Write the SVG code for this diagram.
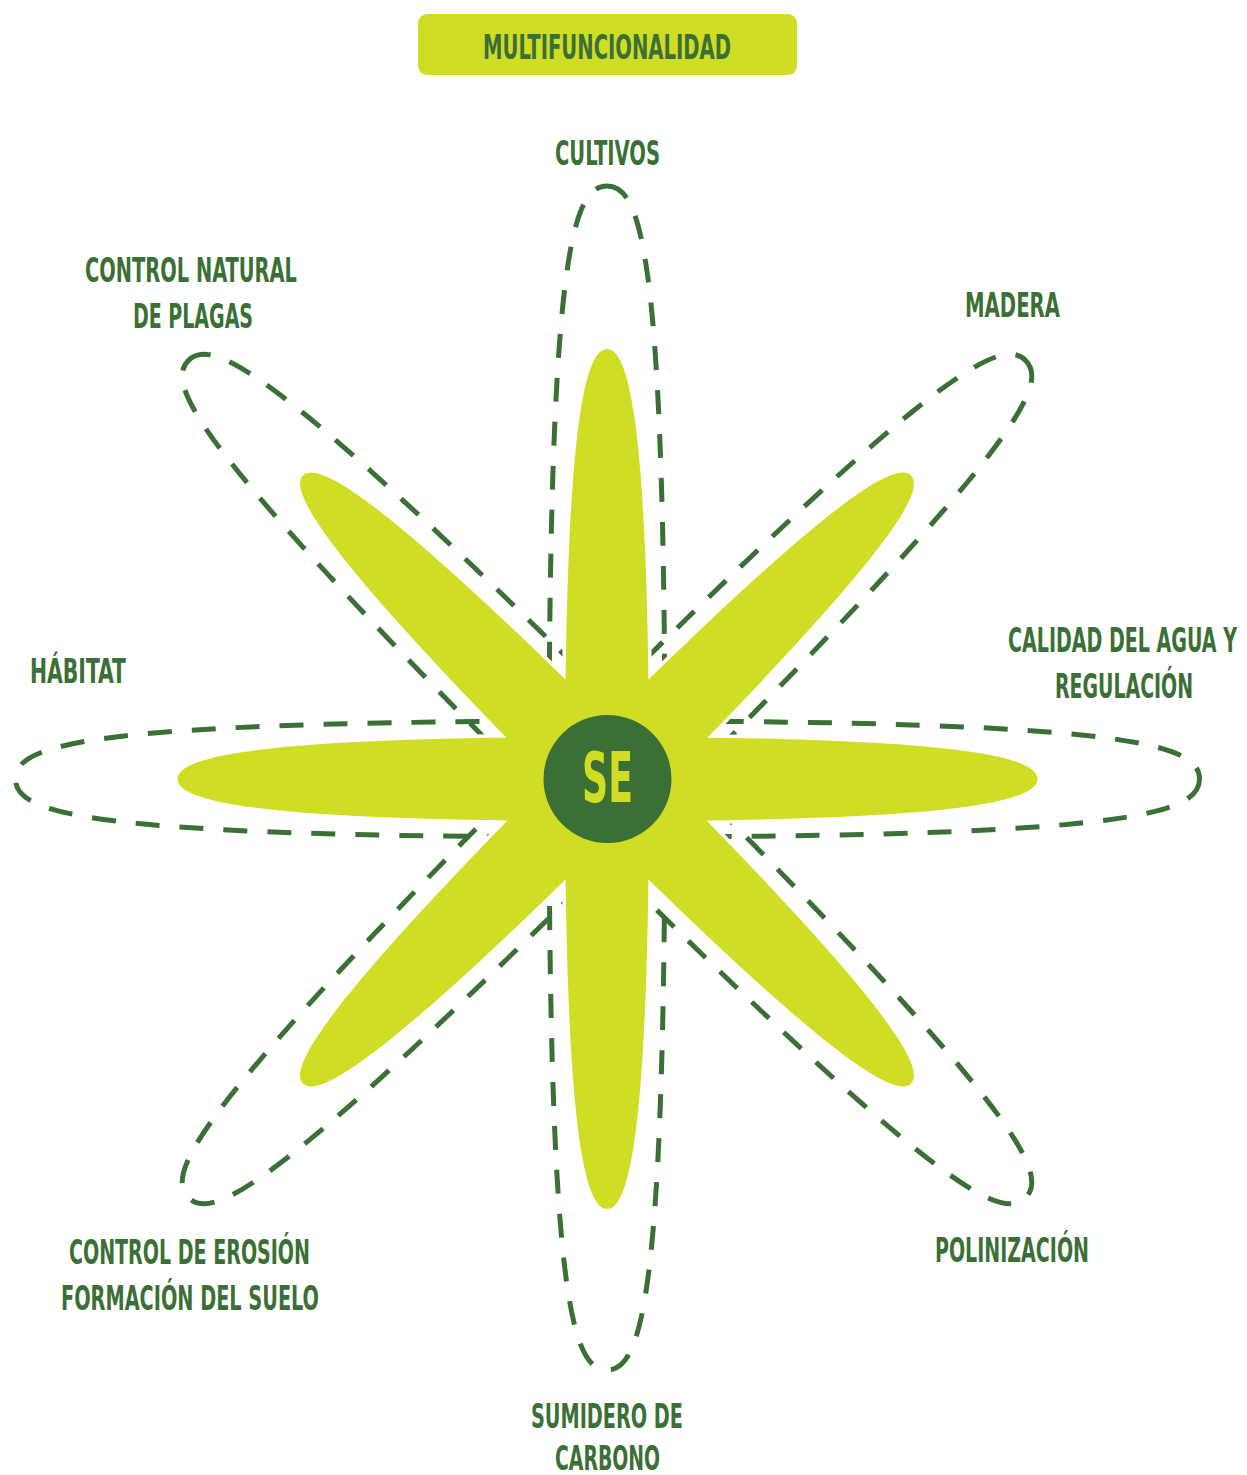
<svg xmlns="http://www.w3.org/2000/svg" width="1247" height="1475" viewBox="0 0 1247 1475">
<style>
.lbl{font-family:"Liberation Sans Narrow","DejaVu Sans Condensed","Liberation Sans",sans-serif;font-weight:bold;font-size:34px;fill:#3a7035;text-anchor:middle}
.dash{fill:none;stroke:#3a7035;stroke-width:5;stroke-dasharray:24 20}
.petal{fill:#cfdd25}
.halo{fill:#ffffff;stroke:#ffffff;stroke-width:7}
</style>
<defs>
<path id="ring" d="M0,-592 C34.8,-592 58,-521 58,0 C58,521 34.8,592 0,592 C-34.8,592 -58,521 -58,0 C-58,-521 -34.8,-592 0,-592Z"/>
<path id="leaf" d="M0,-430 C25.2,-430 42,-326.8 42,0 C42,326.8 25.2,430 0,430 C-25.2,430 -42,326.8 -42,0 C-42,-326.8 -25.2,-430 0,-430Z"/>
</defs>
<rect width="1247" height="1475" fill="#ffffff"/>
<g id="title">
<rect x="418" y="14" width="379" height="61" rx="9" fill="#cfdd25"/>
<text class="lbl" x="607" y="59" textLength="248" lengthAdjust="spacingAndGlyphs">MULTIFUNCIONALIDAD</text>
</g>
<g id="dashed-rings">
<use href="#ring" class="dash" transform="translate(607,778)"/>
<use href="#ring" class="dash" transform="translate(607.5,779) rotate(90)"/>
<use href="#ring" class="dash" transform="translate(607,779) rotate(45)"/>
<use href="#ring" class="dash" transform="translate(607,779) rotate(-45)"/>
</g>
<g id="petal-halos">
<use href="#leaf" class="halo" transform="translate(607,779)"/>
<use href="#leaf" class="halo" transform="translate(607.5,779) rotate(90)"/>
<use href="#leaf" class="halo" transform="translate(607,779.5) rotate(45)"/>
<use href="#leaf" class="halo" transform="translate(607,779.5) rotate(-45)"/>
</g>
<g id="petals">
<use href="#leaf" class="petal" transform="translate(607,779)"/>
<use href="#leaf" class="petal" transform="translate(607.5,779) rotate(90)"/>
<use href="#leaf" class="petal" transform="translate(607,779.5) rotate(45)"/>
<use href="#leaf" class="petal" transform="translate(607,779.5) rotate(-45)"/>
</g>
<g id="center">
<circle cx="607.5" cy="779" r="64" fill="#3a7035"/>
<text class="lbl" x="607.5" y="802" style="font-size:69px;fill:#cfdd25" textLength="51" lengthAdjust="spacingAndGlyphs">SE</text>
</g>
<g id="label-cultivos"><text class="lbl" x="607.5" y="165" textLength="105" lengthAdjust="spacingAndGlyphs">CULTIVOS</text></g>
<g id="label-madera"><text class="lbl" x="1012.5" y="317" textLength="95" lengthAdjust="spacingAndGlyphs">MADERA</text></g>
<g id="label-agua">
<text class="lbl" x="1122.5" y="652" textLength="229" lengthAdjust="spacingAndGlyphs">CALIDAD DEL AGUA Y</text>
<text class="lbl" x="1124" y="698" textLength="138" lengthAdjust="spacingAndGlyphs">REGULACIÓN</text>
</g>
<g id="label-polinizacion"><text class="lbl" x="1012" y="1262" textLength="154" lengthAdjust="spacingAndGlyphs">POLINIZACIÓN</text></g>
<g id="label-carbono">
<text class="lbl" x="607" y="1428" textLength="152" lengthAdjust="spacingAndGlyphs">SUMIDERO DE</text>
<text class="lbl" x="607.5" y="1470" textLength="105" lengthAdjust="spacingAndGlyphs">CARBONO</text>
</g>
<g id="label-erosion">
<text class="lbl" x="189.5" y="1264" textLength="241" lengthAdjust="spacingAndGlyphs">CONTROL DE EROSIÓN</text>
<text class="lbl" x="190" y="1310" textLength="258" lengthAdjust="spacingAndGlyphs">FORMACIÓN DEL SUELO</text>
</g>
<g id="label-habitat"><text class="lbl" x="78" y="683" textLength="96" lengthAdjust="spacingAndGlyphs">HÁBITAT</text></g>
<g id="label-plagas">
<text class="lbl" x="191" y="282" textLength="212" lengthAdjust="spacingAndGlyphs">CONTROL NATURAL</text>
<text class="lbl" x="193" y="328" textLength="120" lengthAdjust="spacingAndGlyphs">DE PLAGAS</text>
</g>
</svg>
